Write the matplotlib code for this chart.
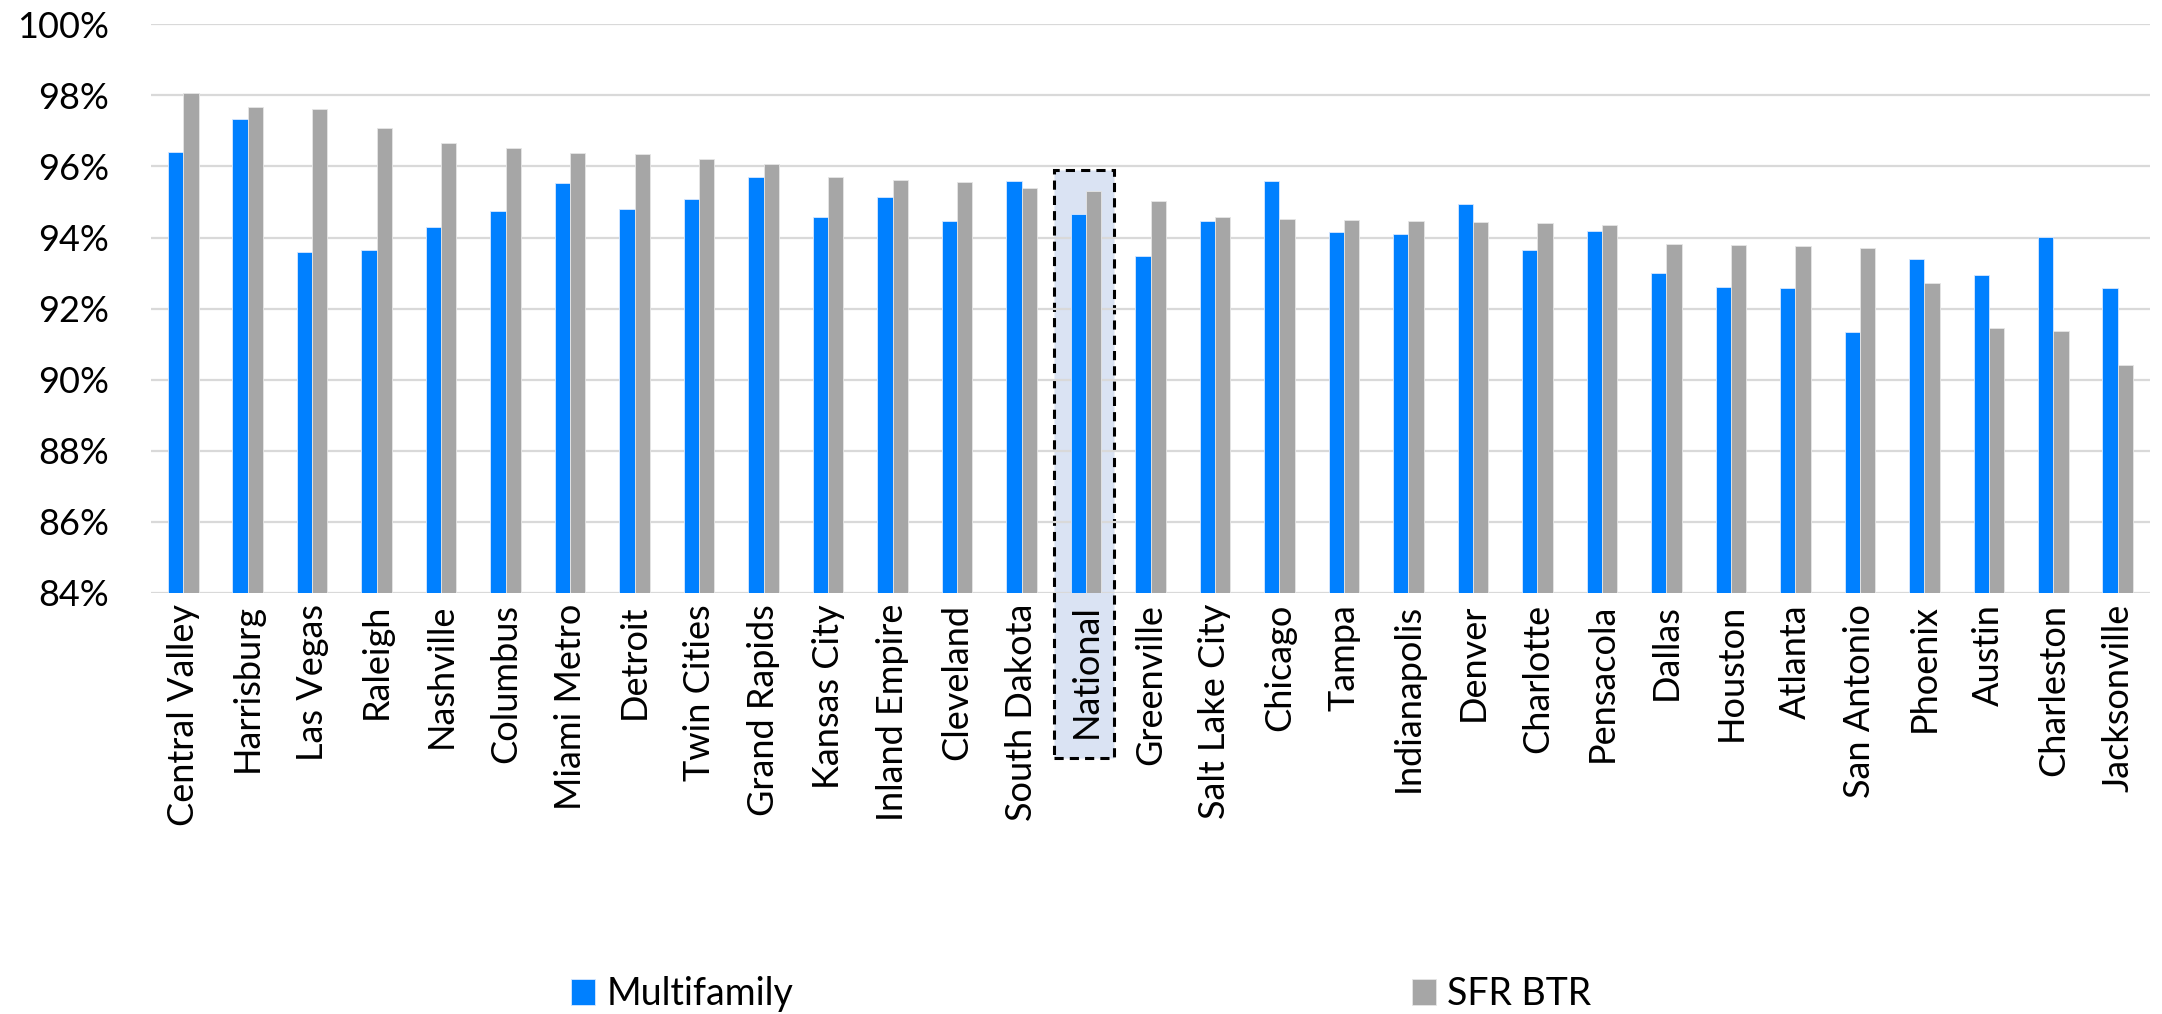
import matplotlib
matplotlib.use("Agg")
import matplotlib.pyplot as plt
import matplotlib.transforms as mtransforms
from matplotlib.patches import Rectangle
import numpy as np

categories = ["Central Valley", "Harrisburg", "Las Vegas", "Raleigh", "Nashville", "Columbus",
              "Miami Metro", "Detroit", "Twin Cities", "Grand Rapids", "Kansas City", "Inland Empire",
              "Cleveland", "South Dakota", "National", "Greenville", "Salt Lake City", "Chicago",
              "Tampa", "Indianapolis", "Denver", "Charlotte", "Pensacola", "Dallas", "Houston",
              "Atlanta", "San Antonio", "Phoenix", "Austin", "Charleston", "Jacksonville"]
multifamily = [96.41, 97.34, 93.60, 93.66, 94.31, 94.74, 95.54, 94.79, 95.09, 95.71, 94.57, 95.15,
               94.46, 95.60, 94.66, 93.47, 94.47, 95.58, 94.15, 94.11, 94.94, 93.65, 94.18, 93.00,
               92.61, 92.59, 91.34, 93.40, 92.94, 94.02, 92.59]
sfr_btr = [98.06, 97.67, 97.61, 97.09, 96.65, 96.53, 96.39, 96.34, 96.21, 96.07, 95.70, 95.63,
           95.56, 95.40, 95.30, 95.03, 94.57, 94.51, 94.50, 94.47, 94.44, 94.41, 94.36, 93.81,
           93.80, 93.77, 93.71, 92.71, 91.45, 91.36, 90.41]
yticks = [84, 86, 88, 90, 92, 94, 96, 98, 100]
highlight = "National"

plt.rcParams['font.family'] = ['Lato', 'DejaVu Sans']

fig = plt.figure(figsize=(21.62, 10.14), dpi=100)
ax = fig.add_axes([151/2162, 1 - 593/1014, (2150 - 151)/2162, (593 - 24.3)/1014])

x = np.arange(len(categories))
w = 0.237
ax.bar(x - w/2, multifamily, width=w, color="#0080FF", label="Multifamily", zorder=3,
       edgecolor="#d8e8ff", linewidth=0.6)
ax.bar(x + w/2, sfr_btr, width=w, color="#A6A6A6", label="SFR BTR", zorder=3,
       edgecolor="#e6e6e6", linewidth=0.6)

ax.set_ylim(84, 100)
ax.set_xlim(-0.5, len(categories) - 0.5)
ax.set_yticks(yticks)
ax.set_yticklabels([f"{v}%" for v in yticks], fontsize=26)
ax.set_xticks(x)
ax.set_xticklabels(categories, rotation=90, fontsize=26)
ax.tick_params(axis='y', length=0, pad=30)
ax.tick_params(axis='x', length=0, pad=8)
for s in ax.spines.values():
    s.set_visible(False)
ax.grid(axis='y', color="#D9D9D9", linewidth=1.6, zorder=1)
ax.set_axisbelow(True)

# highlight box around National
i = categories.index(highlight)
trans = mtransforms.blended_transform_factory(ax.transData, ax.transAxes)
y0 = (593 - 758) / (593 - 24.3)
y1 = (593 - 170) / (593 - 24.3)
rect = Rectangle((i - 0.49, y0), 0.92, y1 - y0, transform=trans, facecolor="#DAE3F3",
                 edgecolor="black", linestyle=(0, (3, 2)), linewidth=2.2, clip_on=False, zorder=0.5)
ax.add_patch(rect)

handles, labels = ax.get_legend_handles_labels()
fig.legend(handles, labels, loc='center', bbox_to_anchor=(1081/2162, 1 - 994/1014), ncol=2,
           frameon=False, fontsize=27, handlelength=0.65, handleheight=0.7, handletextpad=0.3,
           columnspacing=16.5)

fig.savefig("out.png", dpi=100)
